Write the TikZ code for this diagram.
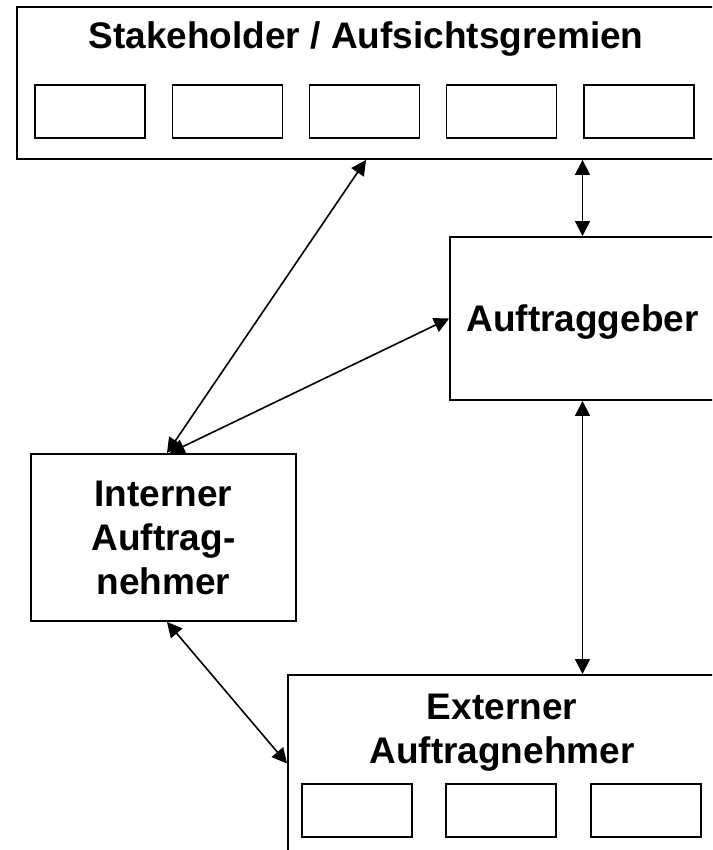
\documentclass[tikz,border=0pt]{standalone}
\usepackage{fontspec}
\setmainfont{Liberation Sans}
\usetikzlibrary{arrows.meta,calc}
\begin{document}
\begin{tikzpicture}[x=1pt,y=-1pt,
  bigbox/.style={draw,line width=1.9pt,rectangle,inner sep=0pt,anchor=center},
  smallbox/.style={draw,line width=1.7pt,rectangle,minimum width=110pt,minimum height=53pt,inner sep=0pt},
  lbl/.style={font=\fontsize{37}{44}\selectfont\bfseries,inner sep=0pt,align=center},
  dbl/.style={{Triangle[length=15pt,width=15pt]}-{Triangle[length=15pt,width=15pt]},line width=1.6pt}
]
\useasboundingbox (0,0) rectangle (712,850);
\clip (0,0) rectangle (712,850);
\fill[white] (0,0) rectangle (712,850);

% top box
\node[bigbox,minimum width=698pt,minimum height=152pt] (stake) at (366,83) {};
\node[lbl,anchor=base] (staketitle) at (366,49) {Stakeholder / Aufsichtsgremien};
\foreach \i/\xx in {1/90,2/227.5,3/364.5,4/501.5,5/639}
  \node[smallbox] (s\i) at (\xx,111.75) {};

% Auftraggeber
\node[bigbox,lbl,minimum width=265pt,minimum height=163pt,text height=26pt,text depth=0pt] (auftrag) at (582.5,318.5) {Auftraggeber};

% Interner Auftragnehmer
\node[bigbox,lbl,minimum width=265pt,minimum height=167pt] (intern) at (163.5,537.5) {Interner\\Auftrag-\\nehmer};

% Externer Auftragnehmer
\node[bigbox,minimum width=428pt,minimum height=177pt] (extern) at (502,763.5) {};
\node[lbl] (externtext) at (502,733) {Externer\\Auftragnehmer};
\foreach \i/\xx in {1/357,2/501,3/646}
  \node[smallbox] (e\i) at (\xx,810.5) {};

% connectors
\draw[dbl] ([xshift=3.5pt]intern.north) -- (stake.south);
\draw[dbl] ([xshift=6pt]intern.north) -- (auftrag.west);
\draw[dbl] (auftrag.north |- stake.south) -- (auftrag.north);
\draw[dbl] (auftrag.south) -- (auftrag.south |- extern.north);
\draw[dbl] ([xshift=3.5pt]intern.south) -- (extern.west);
\end{tikzpicture}
\end{document}
